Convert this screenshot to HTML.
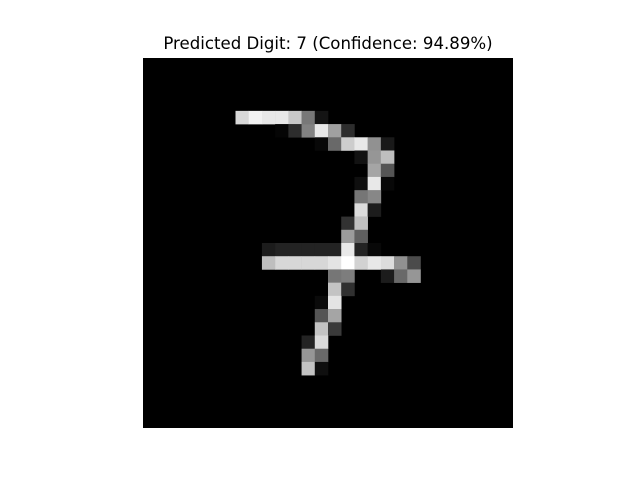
<!DOCTYPE html>
<html><head><meta charset="utf-8"><style>
html,body{margin:0;padding:0;background:#fff;}
svg{display:block;}
</style></head><body>
<svg id="chart" width="640" height="480">
<rect width="640" height="480" fill="#fff"/>
<text x="328" y="49" text-anchor="middle" font-family="DejaVu Sans, Liberation Sans, sans-serif" font-size="16.6" fill="#000">Predicted Digit: 7 (Confidence: 94.89%)</text>
<g id="img"></g>
</svg>
<script>
const gridSize = 28;
const pixelRows = [4,4,4,4,4,4,4, 5,5,5,5,5,5, 6,6,6,6,6,6, 7,7,7, 8,8, 9,9,9, 10,10, 11,11, 12,12, 13,13,
  14,14,14,14,14,14,14,14,14, 15,15,15,15,15,15,15,15,15,15,15,15, 16,16,16,16,16, 17,17, 18,18, 19,19, 20,20, 21,21, 22,22, 23,23];
const pixelCols = [7,8,9,10,11,12,13, 10,11,12,13,14,15, 13,14,15,16,17,18, 16,17,18, 17,18, 16,17,18, 16,17, 16,17, 15,16, 15,16,
  9,10,11,12,13,14,15,16,17, 9,10,11,12,13,14,15,16,17,18,19,20, 14,15,18,19,20, 14,15, 13,14, 13,14, 13,14, 12,13, 12,13, 12,13];
const pixelValues = [216,242,232,232,200,120,20, 5,45,130,232,160,45, 8,105,205,232,145,25, 18,150,190, 165,85, 15,232,8, 118,135, 220,28, 50,192, 155,95,
  28,35,35,35,35,35,232,35,8, 190,215,215,215,215,228,255,210,232,220,145,75, 118,125,28,105,150, 195,48, 10,228, 85,165, 195,58, 35,218, 150,105, 195,15];

const x0 = 143, y0 = 58, size = 370;
const cell = size / gridSize;
const xScale = c => x0 + c * cell;
const yScale = r => y0 + r * cell;
const g = document.getElementById('img');
const NS = 'http://www.w3.org/2000/svg';
const bg = document.createElementNS(NS, 'rect');
bg.setAttribute('x', x0); bg.setAttribute('y', y0);
bg.setAttribute('width', size); bg.setAttribute('height', size);
bg.setAttribute('fill', '#000');


g.appendChild(bg);
for (let i = 0; i < pixelValues.length; i++) {
  const v = pixelValues[i];
  const r = document.createElementNS(NS, 'rect');
  r.setAttribute('x', xScale(pixelCols[i]));
  r.setAttribute('y', yScale(pixelRows[i]));
  r.setAttribute('width', cell + 0.3);
  r.setAttribute('height', cell + 0.3);
  r.setAttribute('fill', `rgb(${v},${v},${v})`);
  
  
  g.appendChild(r);
}
</script>
</body></html>
